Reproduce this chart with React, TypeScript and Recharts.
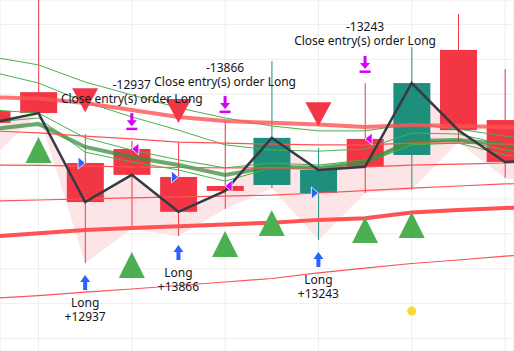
import { Area, Bar, CartesianGrid, ComposedChart, Line, Scatter, XAxis, YAxis } from "recharts"

// candle index, one entry per bar (0 and 12 sit just outside the view)
const idx = [0, 1, 2, 3, 4, 5, 6, 7, 8, 9, 10, 11, 12]
const opens = [87.52, 88.06, 86.03, 86.43, 85.63, 85.37, 85.4, 85.17, 86.72, 86.26, 89.27, 87.26, 86.4]
const highs = [87.83, 90.99, 86.86, 86.66, 86.63, 87.23, 88.95, 86.46, 88.32, 89.35, 90.3, 88.72, 86.69]
const lows = [86.17, 87.46, 83.16, 84.14, 83.94, 84.71, 85.31, 83.82, 85.17, 85.26, 86.63, 85.6, 85.4]
const closes = [87.18, 87.46, 84.91, 85.69, 84.63, 85.23, 86.75, 85.83, 85.92, 88.32, 86.97, 86.06, 86.12]

// overlay lines
const redTop = [87.91, 87.88, 87.75, 87.55, 87.35, 87.23, 87.18, 87.13, 87.06, 87.12, 87.09, 87.06, 87.03]
const red1 = [86.95, 86.89, 86.8, 86.72, 86.63, 86.6, 86.57, 86.55, 86.55, 86.6, 86.6, 86.57, 86.55]
const red2 = [85.97, 85.96, 85.94, 85.92, 85.9, 85.89, 85.89, 85.89, 85.92, 85.97, 86.0, 86.03, 86.03]
const red3 = [84.94, 84.97, 85.0, 85.03, 85.06, 85.08, 85.11, 85.17, 85.24, 85.31, 85.37, 85.43, 85.49]
const redThick = [83.92, 84.02, 84.11, 84.17, 84.22, 84.27, 84.32, 84.4, 84.45, 84.61, 84.68, 84.74, 84.78]
const red5 = [82.15, 82.23, 82.33, 82.42, 82.52, 82.62, 82.72, 82.88, 83.02, 83.15, 83.25, 83.36, 83.45]
const green1 = [89.07, 88.84, 88.35, 87.98, 87.61, 87.32, 87.09, 86.95, 86.95, 87.15, 87.0, 86.8, 86.66]
const green2 = [88.64, 88.32, 87.78, 87.35, 86.97, 86.55, 86.4, 86.37, 86.43, 86.89, 86.86, 86.55, 86.4]
const green3 = [87.55, 87.46, 86.75, 86.4, 86.12, 85.89, 86.03, 85.97, 86.12, 86.6, 86.69, 86.4, 86.26]
const green4 = [87.2, 87.32, 86.34, 86.06, 85.83, 85.51, 85.89, 85.89, 86.03, 86.55, 86.6, 86.26, 86.12]
const greenThick = [87.0, 87.15, 86.49, 86.2, 85.97, 85.69, 85.92, 85.89, 86.06, 86.66, 86.69, 86.55, 86.46]

// signals
const buyIdx = [1, 3, 5, 6, 8, 9]
const buyPrice = [86.4, 83.11, 83.71, 84.31, 84.11, 84.25]
const sellIdx = [2, 4, 7]
const sellPrice = [87.83, 87.52, 87.43]

// strategy orders
const entryIdx = [2, 4, 7]
const entryPrice = [86.03, 85.63, 85.17]
const entryArrow = [82.82, 83.68, 83.48]
const entryLabels = ["+12937", "+13866", "+13243"]
const exitIdx = [3, 5, 8]
const exitPrice = [86.43, 85.37, 86.72]
const exitArrow = [86.97, 87.46, 88.61]
const exitLabels = ["-12937", "-13866", "-13243"]

const dotIdx = [9]
const dotPrice = [81.79]

const xTicks = [1, 3, 5, 7, 9, 11]
const yTicks = [81, 82, 83, 84, 85, 86, 87, 88, 89, 90]

const RED = "#f23645"
const TEAL = "#1f8f7d"
const LINE_RED = "#ff5252"
const GREEN = "#4caf50"
const MAGENTA = "#d500f9"
const BLUE = "#2962ff"
const TEXT = "#131722"

const rows = idx.map((i, k) => ({
  i,
  open: opens[k],
  high: highs[k],
  low: lows[k],
  close: closes[k],
  redTop: redTop[k],
  red1: red1[k],
  red2: red2[k],
  red3: red3[k],
  redThick: redThick[k],
  red5: red5[k],
  green1: green1[k],
  green2: green2[k],
  green3: green3[k],
  green4: green4[k],
  greenThick: greenThick[k],
}))

const buys = buyIdx.map((i, k) => ({ i, p: buyPrice[k] }))
const sells = sellIdx.map((i, k) => ({ i, p: sellPrice[k] }))
const entries = entryIdx.map((i, k) => ({ i, p: entryPrice[k] }))
const exits = exitIdx.map((i, k) => ({ i, p: exitPrice[k] }))
const longArrows = entryIdx.map((i, k) => ({ i, p: entryArrow[k], label: entryLabels[k] }))
const closeArrows = exitIdx.map((i, k) => ({ i, p: exitArrow[k], label: exitLabels[k] }))
const dots = dotIdx.map((i, k) => ({ i, p: dotPrice[k] }))

function Candle(props: any) {
  const { x, y, width, height, payload } = props
  const { open, close, high, low } = payload
  const color = close >= open ? TEAL : RED
  const k = height / (high - low)
  const top = y + (high - Math.max(open, close)) * k
  const bot = y + (high - Math.min(open, close)) * k
  const cx = x + width / 2
  return (
    <g>
      <line x1={cx} x2={cx} y1={y} y2={y + height} stroke={color} strokeWidth={1} />
      <rect x={x} y={top} width={width} height={Math.max(bot - top, 1)} fill={color} />
    </g>
  )
}

const UpTriangle = ({ cx, cy }: any) => (
  <path d={`M${cx},${cy - 13} L${cx + 13},${cy + 13} L${cx - 13},${cy + 13} Z`} fill={GREEN} />
)

const DownTriangle = ({ cx, cy }: any) => (
  <path d={`M${cx - 13},${cy - 12} L${cx + 13},${cy - 12} L${cx},${cy + 12} Z`} fill={RED} />
)

const EntryFlag = ({ cx, cy }: any) => (
  <path d={`M${cx - 7},${cy - 6} L${cx},${cy} L${cx - 7},${cy + 6} Z`} fill={BLUE} stroke="#fff" strokeWidth={0.8} />
)

const ExitFlag = ({ cx, cy }: any) => (
  <path d={`M${cx + 7},${cy - 6} L${cx},${cy} L${cx + 7},${cy + 6} Z`} fill={MAGENTA} stroke="#fff" strokeWidth={0.8} />
)

const LongArrow = ({ cx, cy, payload }: any) => (
  <g>
    <path d={`M${cx},${cy} L${cx + 5},${cy + 7} L${cx - 5},${cy + 7} Z`} fill={BLUE} />
    <rect x={cx - 2} y={cy + 6} width={4} height={9} fill={BLUE} />
    <text x={cx} y={cy + 32} textAnchor="middle" fontSize={12} fill={TEXT}>Long</text>
    <text x={cx} y={cy + 46} textAnchor="middle" fontSize={12} fill={TEXT}>{payload.label}</text>
  </g>
)

const CloseArrow = ({ cx, cy, payload }: any) => (
  <g>
    <rect x={cx - 5.5} y={cy - 2.5} width={11} height={2.5} fill={MAGENTA} />
    <path d={`M${cx},${cy - 4} L${cx + 5},${cy - 10} L${cx - 5},${cy - 10} Z`} fill={MAGENTA} />
    <rect x={cx - 1.5} y={cy - 17} width={3} height={8} fill={MAGENTA} />
    <text x={cx} y={cy - 27.5} textAnchor="middle" fontSize={12} fill={TEXT}>Close entry(s) order Long</text>
    <text x={cx} y={cy - 41.5} textAnchor="middle" fontSize={12} fill={TEXT}>{payload.label}</text>
  </g>
)

const Dot = ({ cx, cy }: any) => <circle cx={cx} cy={cy} r={4.5} fill="#fdd835" />

export default function App() {
  return (
    <div style={{ position: "absolute", left: 0, top: 0, fontFamily: "'Noto Sans', sans-serif" }}>
      <ComposedChart width={514} height={351} data={rows} margin={{ top: 0, right: 0, bottom: 0, left: 0 }}>
        <CartesianGrid stroke="#eeeeee" />
        <XAxis dataKey="i" type="number" domain={[0.1747, 11.193]} ticks={xTicks} allowDataOverflow hide />
        <YAxis type="number" domain={[80.643, 90.7]} ticks={yTicks} allowDataOverflow hide />
        <Area dataKey={(d: any) => [d.low, d.close]} type="linear" fill="#fde4e6" fillOpacity={1} stroke="none" isAnimationActive={false} />
        <Bar dataKey={(d: any) => [d.low, d.high]} barSize={37} shape={Candle} isAnimationActive={false} />
        <Line dataKey="green1" stroke={GREEN} strokeWidth={1} dot={false} isAnimationActive={false} />
        <Line dataKey="green2" stroke={GREEN} strokeWidth={1} dot={false} isAnimationActive={false} />
        <Line dataKey="green3" stroke={GREEN} strokeWidth={1} dot={false} isAnimationActive={false} />
        <Line dataKey="green4" stroke={GREEN} strokeWidth={1} dot={false} isAnimationActive={false} />
        <Line dataKey="greenThick" stroke="#388e3c" strokeOpacity={0.75} strokeWidth={4} dot={false} isAnimationActive={false} />
        <Line dataKey="redTop" stroke={LINE_RED} strokeOpacity={0.8} strokeWidth={4} dot={false} isAnimationActive={false} />
        <Line dataKey="red1" stroke={LINE_RED} strokeWidth={1.2} dot={false} isAnimationActive={false} />
        <Line dataKey="red2" stroke={LINE_RED} strokeWidth={1.2} dot={false} isAnimationActive={false} />
        <Line dataKey="red3" stroke={LINE_RED} strokeWidth={1.2} dot={false} isAnimationActive={false} />
        <Line dataKey="redThick" stroke={LINE_RED} strokeWidth={4} dot={false} isAnimationActive={false} />
        <Line dataKey="red5" stroke={LINE_RED} strokeWidth={1.2} dot={false} isAnimationActive={false} />
        <Line dataKey="close" stroke="#363a45" strokeWidth={2.5} dot={false} isAnimationActive={false} />
        <Scatter data={buys} dataKey="p" shape={UpTriangle} isAnimationActive={false} />
        <Scatter data={sells} dataKey="p" shape={DownTriangle} isAnimationActive={false} />
        <Scatter data={entries} dataKey="p" shape={EntryFlag} isAnimationActive={false} />
        <Scatter data={exits} dataKey="p" shape={ExitFlag} isAnimationActive={false} />
        <Scatter data={longArrows} dataKey="p" shape={LongArrow} isAnimationActive={false} />
        <Scatter data={closeArrows} dataKey="p" shape={CloseArrow} isAnimationActive={false} />
        <Scatter data={dots} dataKey="p" shape={Dot} isAnimationActive={false} />
      </ComposedChart>
    </div>
  )
}
